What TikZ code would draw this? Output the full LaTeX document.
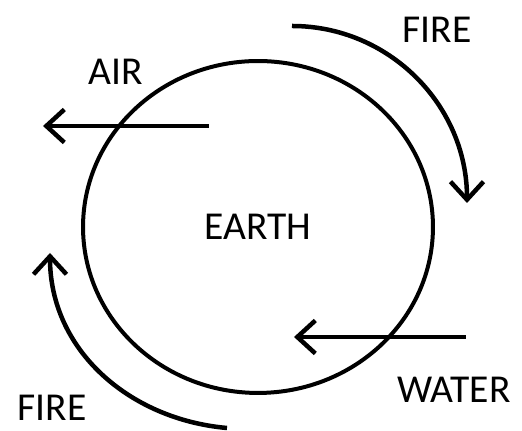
\documentclass[tikz,border=0pt]{standalone}
\usepackage{fontspec}
\setmainfont{Carlito}
\usetikzlibrary{arrows.meta,shapes.geometric}
\begin{document}
\begin{tikzpicture}[x=0.02cm, y=0.02cm,
  font=\fontsize{22.5}{27}\selectfont,
  body/.style={draw, ellipse, line width=0.08cm, minimum width=7cm,
               minimum height=6.64cm, inner sep=0pt},
  lbl/.style={inner sep=0pt},
  flow/.style={line width=0.09cm, -{Straight Barb[length=0.36cm, width=0.66cm]}}
]
  \useasboundingbox (0,0) rectangle (522,431);
  \node[body] (earth) at (258,204) {EARTH};
  \node[lbl] (air)   at (116,359) {AIR};
  \node[lbl] (fireT) at (437,401) {FIRE};
  \node[lbl] (fireB) at (52,23)   {FIRE};
  \node[lbl] (water) at (454,41)  {WATER};
  \coordinate (airS) at (209,305);
  \coordinate (airE) at (43,305);
  \coordinate (fTS) at (292,405);
  \coordinate (fTE) at (467,228);
  \coordinate (watS) at (466,94);
  \coordinate (watE) at (294,94);
  \coordinate (fBS) at (227,3);
  \coordinate (fBE) at (50,178);
  \draw[flow] (airS) -- (airE);
  \draw[flow] (fTS) to[out=0, in=90] (fTE);
  \draw[flow] (watS) -- (watE);
  \draw[flow] (fBS) to[out=175, in=-90] (fBE);
\end{tikzpicture}
\end{document}
